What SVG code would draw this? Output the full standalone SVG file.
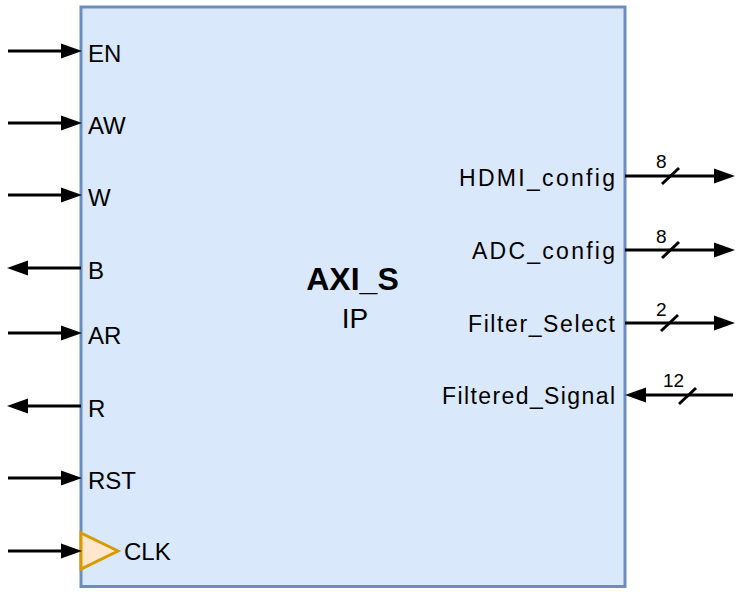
<svg xmlns="http://www.w3.org/2000/svg" width="743" height="592" viewBox="0 0 743 592">
<style>
.lbl{font-family:"Liberation Sans",Arial,sans-serif;font-size:24px;fill:#000;}
.rl{font-family:"Liberation Sans",Arial,sans-serif;font-size:23px;fill:#000;text-anchor:end;}
.bw{font-family:"Liberation Sans",Arial,sans-serif;font-size:19px;fill:#000;}
.wire{stroke:#000;stroke-width:3;fill:none;}
.head{fill:#000;}
</style>
<defs>
<path id="hr" d="M-21,-7.5 L0,0 L-21,7.5 z"/>
<path id="hl" d="M21,-7.5 L0,0 L21,7.5 z"/>
</defs>
<g id="block">
<rect x="81" y="7" width="544" height="579.5" fill="#dae8fc" stroke="#6c8ebf" stroke-width="3"/>
<text x="352.5" y="290" text-anchor="middle" style="font-family:'Liberation Sans',Arial,sans-serif;font-size:32px;font-weight:bold;fill:#000">AXI_S</text>
<text x="355" y="328" text-anchor="middle" style="font-family:'Liberation Sans',Arial,sans-serif;font-size:28px;fill:#000">IP</text>
<polygon points="81,533 118,551 81,569" fill="#ffe6cc" stroke="#d79b00" stroke-width="3"/>
</g>
<g id="labels">
<text class="lbl" x="88" y="62">EN</text>
<text class="lbl" x="88" y="134">AW</text>
<text class="lbl" x="88" y="206">W</text>
<text class="lbl" x="88" y="279">B</text>
<text class="lbl" x="88" y="344">AR</text>
<text class="lbl" x="88" y="417">R</text>
<text class="lbl" x="88" y="489">RST</text>
<text class="lbl" x="124" y="560">CLK</text>
<text class="rl" x="615" y="186" textLength="156" lengthAdjust="spacing">HDMI_config</text>
<text class="rl" x="615" y="259" textLength="143" lengthAdjust="spacing">ADC_config</text>
<text class="rl" x="615" y="332" textLength="147" lengthAdjust="spacing">Filter_Select</text>
<text class="rl" x="615" y="404" textLength="173" lengthAdjust="spacing">Filtered_Signal</text>
</g>
<g id="connectors">
<line class="wire" x1="8" y1="51" x2="66" y2="51"/><use href="#hr" class="head" x="82" y="51"/>
<line class="wire" x1="8" y1="123" x2="66" y2="123"/><use href="#hr" class="head" x="82" y="123"/>
<line class="wire" x1="8" y1="195" x2="66" y2="195"/><use href="#hr" class="head" x="82" y="195"/>
<line class="wire" x1="81" y1="268" x2="22" y2="268"/><use href="#hl" class="head" x="7" y="268"/>
<line class="wire" x1="8" y1="333" x2="66" y2="333"/><use href="#hr" class="head" x="82" y="333"/>
<line class="wire" x1="81" y1="406" x2="22" y2="406"/><use href="#hl" class="head" x="7" y="406"/>
<line class="wire" x1="8" y1="478" x2="66" y2="478"/><use href="#hr" class="head" x="82" y="478"/>
<line class="wire" x1="8" y1="551" x2="66" y2="551"/><use href="#hr" class="head" x="82" y="551"/>
<line class="wire" x1="625" y1="176" x2="718" y2="176"/><use href="#hr" class="head" x="735" y="176"/>
<line class="wire" x1="662" y1="184" x2="679" y2="168"/>
<text class="bw" x="656" y="168">8</text>
<line class="wire" x1="625" y1="250" x2="718" y2="250"/><use href="#hr" class="head" x="735" y="250"/>
<line class="wire" x1="662" y1="258" x2="679" y2="242"/>
<text class="bw" x="656" y="243">8</text>
<line class="wire" x1="625" y1="323" x2="718" y2="323"/><use href="#hr" class="head" x="735" y="323"/>
<line class="wire" x1="661" y1="331" x2="678" y2="315"/>
<text class="bw" x="656" y="316">2</text>
<line class="wire" x1="733" y1="395" x2="640" y2="395"/><use href="#hl" class="head" x="625" y="395"/>
<line class="wire" x1="679" y1="404" x2="696" y2="388"/>
<text class="bw" x="663" y="387">12</text>
</g>
</svg>
